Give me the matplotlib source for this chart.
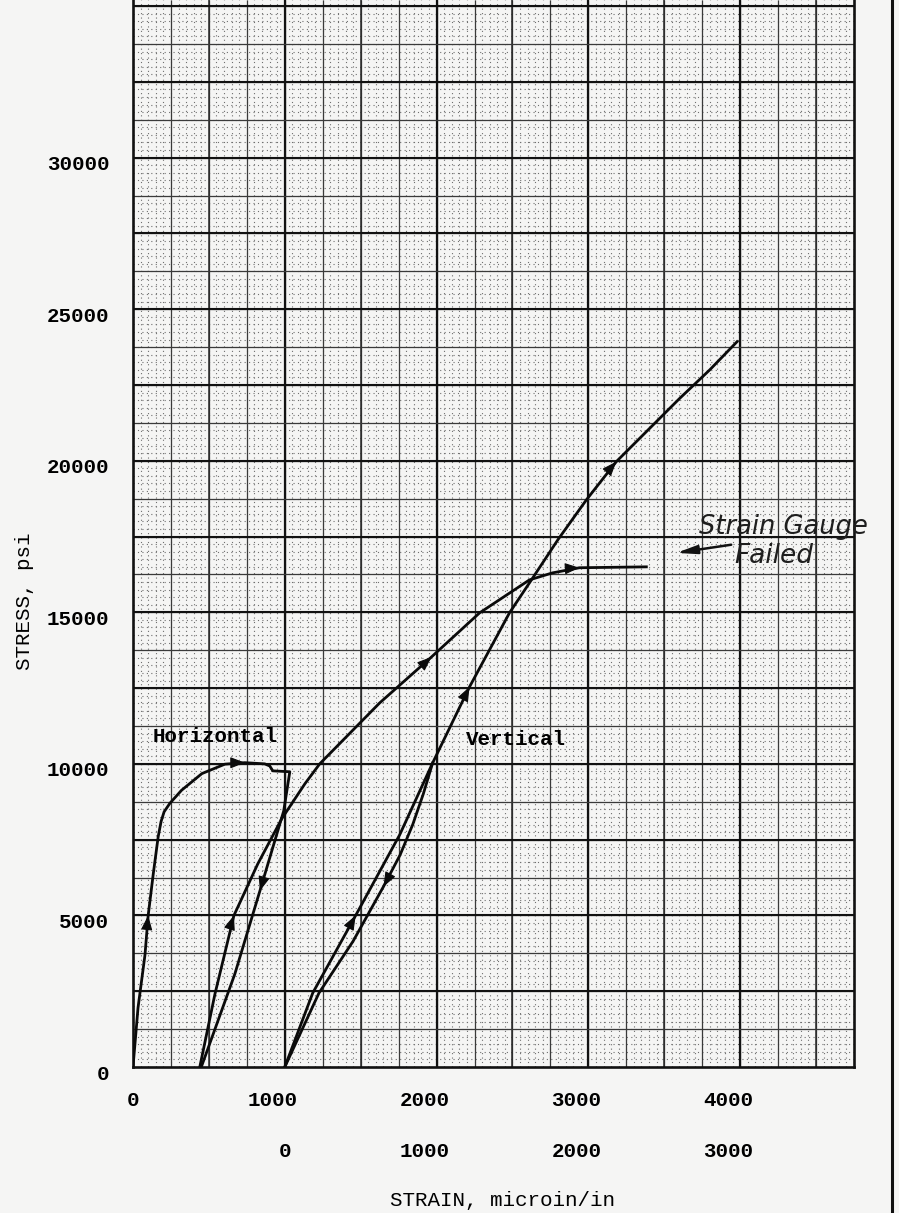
import numpy as np
import matplotlib
matplotlib.use('Agg')
import matplotlib.pyplot as plt
from matplotlib.lines import Line2D
from matplotlib.transforms import ScaledTranslation

# horizontal gauge: first loading, drop at gauge step, unloading  (microin/in, psi)
horiz_first_strain = [0, 33, 79, 100, 134, 166, 185, 205, 243, 320, 454, 605, 737, 868, 901, 921, 1033, 993, 836, 671, 450]
horiz_first_stress = [0, 1950, 3700, 5000, 6390, 7600, 8100, 8420, 8700, 9130, 9680, 9990, 10040, 10000, 9930, 9770, 9740, 8450, 5810, 3070, 0]
horiz_first_arrows = [3, 12, 18]

# horizontal gauge: reloading until the gauge failed
horiz_reload_strain = [440, 540, 665, 822, 980, 1132, 1230, 1625, 1967, 2283, 2612, 2763, 2941, 3382]
horiz_reload_stress = [0, 2410, 5000, 6700, 8190, 9340, 10000, 12010, 13530, 14980, 16070, 16300, 16470, 16500]
horiz_reload_arrows = [2, 8, 12]

# vertical gauge: loading (and reloading past 10000 psi)
vert_load_strain = [1000, 1184, 1467, 1757, 1974, 2217, 2480, 2625, 2800, 2987, 3184, 3400, 3600, 3800, 3980]
vert_load_stress = [0, 2440, 5000, 7660, 10030, 12540, 14980, 16070, 17400, 18710, 19970, 21050, 22050, 23000, 23930]
vert_load_arrows = [2, 5, 10]

# vertical gauge: unloading
vert_unload_strain = [1974, 1912, 1843, 1760, 1650, 1450, 1225, 1000]
vert_unload_stress = [10030, 9000, 8000, 7000, 5950, 4150, 2440, 0]
vert_unload_arrows = [4]

x_ticks = [0, 1000, 2000, 3000, 4000]
x_ticks_vert = [0, 1000, 2000, 3000]   # second row, vertical gauge origin shifted
vert_origin = 1000
y_ticks = [0, 5000, 10000, 15000, 20000, 25000, 30000]

W, H = 899, 1213
bg = '#f5f5f4'
ink = '#0a0a0a'
mono = 'Liberation Mono'

fig = plt.figure(figsize=(W / 100, H / 100), dpi=100)
fig.patch.set_facecolor(bg)
ax = fig.add_axes([133 / W, 1 - 1067 / H, 721 / W, 1067 / H])
ax.set_facecolor(bg)
xmax, ymax = 4750, 35200
ax.set_xlim(0, xmax)
ax.set_ylim(0, ymax)

# graph paper: dotted fine grid, then solid lines
dots = (0, (1, 3))
ax.vlines(np.arange(50, xmax, 50), 0, ymax, colors='#707070', lw=0.8, linestyles=dots, zorder=0)
ax.hlines(np.arange(250, ymax, 250), 0, xmax, colors='#707070', lw=0.8, linestyles=dots, zorder=0)
ax.vlines(np.arange(250, xmax, 250), 0, ymax, colors='#3a3a3a', lw=0.9, zorder=1)
ax.vlines(np.arange(500, xmax, 1000), 0, ymax, colors='#2a2a2a', lw=1.1, zorder=1)
ax.vlines(np.arange(1000, xmax, 1000), 0, ymax, colors='#111111', lw=1.6, zorder=1)
ax.hlines(np.arange(1250, ymax, 1250), 0, xmax, colors='#3a3a3a', lw=0.9, zorder=1)
ax.hlines(np.arange(2500, ymax, 2500), 0, xmax, colors='#111111', lw=1.5, zorder=1)

for s in ['left', 'bottom', 'right']:
    ax.spines[s].set_linewidth(1.9)
    ax.spines[s].set_color('#111111')
ax.spines['top'].set_visible(False)

# curves
for xs, ys in [(horiz_first_strain, horiz_first_stress), (horiz_reload_strain, horiz_reload_stress),
               (vert_load_strain, vert_load_stress), (vert_unload_strain, vert_unload_stress)]:
    ax.plot(xs, ys, color=ink, lw=2.0, zorder=3, solid_joinstyle='round')


def add_arrows(xs, ys, idxs):
    for i in idxs:
        j0 = max(i - 1, 0)
        j1 = min(i + 1, len(xs) - 1)
        p0 = ax.transData.transform((xs[j0], ys[j0]))
        p1 = ax.transData.transform((xs[j1], ys[j1]))
        d = (p1 - p0) / np.hypot(*(p1 - p0))
        ax.annotate('', xy=(xs[i], ys[i]), xytext=(-d[0] * 12, -d[1] * 12), textcoords='offset pixels',
                    arrowprops=dict(arrowstyle='-|>,head_length=0.9,head_width=0.35', color=ink,
                                    lw=0.8, shrinkA=0, shrinkB=0), zorder=4)


add_arrows(horiz_first_strain, horiz_first_stress, horiz_first_arrows)
add_arrows(horiz_reload_strain, horiz_reload_stress, horiz_reload_arrows)
add_arrows(vert_load_strain, vert_load_stress, vert_load_arrows)
add_arrows(vert_unload_strain, vert_unload_stress, vert_unload_arrows)

ax.text(539, 10890, 'Horizontal', ha='center', va='center', family=mono, weight='bold', size=15, zorder=5)
ax.text(2526, 10790, 'Vertical', ha='center', va='center', family=mono, weight='bold', size=15, zorder=5)

# handwritten note
ax.text(3730, 17800, 'Strain Gauge', ha='left', va='center', style='italic', size=18.5, color='#1e1e1e',
        clip_on=False, zorder=5)
ax.text(3960, 16850, 'Failed', ha='left', va='center', style='italic', size=19, color='#1e1e1e',
        clip_on=False, zorder=5)
ax.annotate('', xy=(3579, 16960), xytext=(3941, 17230), annotation_clip=False,
            arrowprops=dict(arrowstyle='-|>,head_length=1.2,head_width=0.25', color='#111111', lw=1.8,
                            shrinkA=0, shrinkB=0))

# ticks
ax.set_xticks(x_ticks)
ax.set_xticklabels([str(v) for v in x_ticks])
ax.set_yticks(y_ticks)
ax.set_yticklabels([str(v) for v in y_ticks])
ax.tick_params(axis='x', length=0, pad=17)
ax.tick_params(axis='y', length=0, pad=17)
shift_left = ScaledTranslation(-12 / 100, 0, fig.dpi_scale_trans)
shift_down = ScaledTranslation(0, -5 / 100, fig.dpi_scale_trans)
for k, lab in enumerate(ax.get_xticklabels()):
    if k > 0:
        lab.set_transform(lab.get_transform() + shift_left)
for lab in ax.get_yticklabels():
    lab.set_transform(lab.get_transform() + shift_down)
for lab in ax.get_xticklabels() + ax.get_yticklabels():
    lab.set_family(mono)
    lab.set_weight('bold')
    lab.set_size(15)

sec = ax.secondary_xaxis('bottom', functions=(lambda x: x - vert_origin, lambda x: x + vert_origin))
sec.set_xticks(x_ticks_vert)
sec.set_xticklabels([str(v) for v in x_ticks_vert])
sec.tick_params(length=0, pad=54)
sec.spines['bottom'].set_visible(False)
for k, lab in enumerate(sec.get_xticklabels()):
    if k > 0:
        lab.set_transform(lab.get_transform() + shift_left)
    lab.set_family(mono)
    lab.set_weight('bold')
    lab.set_size(15)

fig.text(503 / W, 1 - 1200 / H, 'STRAIN, microin/in', ha='center', va='center', family=mono, size=15)
fig.text(24 / W, 1 - 601 / H, 'STRESS, psi', ha='center', va='center', rotation=90, family=mono, size=15)

# page edge
fig.add_artist(Line2D([892 / W, 892 / W], [0, 1], color='#111111', lw=2.2))

fig.savefig('out.png', dpi=100, facecolor=bg)
